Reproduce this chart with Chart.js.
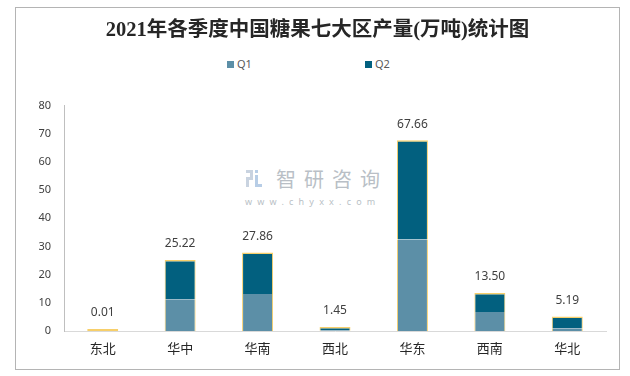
<!DOCTYPE html>
<html>
<head>
<meta charset="utf-8">
<script src="https://cdn.jsdelivr.net/npm/chart.js@4"></script>
<style>
  html, body { margin: 0; padding: 0; background: #fff; }
  #wrap { position: relative; width: 630px; height: 376px; }
  #frame { position: absolute; left: 15px; top: 7px; width: 603px; height: 361px; border: 1px solid #b4b4b4; }
  .leg { position: absolute; top: 57px; font: 11px "Noto Sans", sans-serif; color: #595959; line-height: 14px; }
  .leg i { display: inline-block; width: 7px; height: 7px; margin-right: 3px; vertical-align: 0px; }
  #wm0 { position: absolute; left: 246px; top: 170px; width: 16px; height: 17px; }
  #wm1 { position: absolute; left: 276px; top: 164px; font: 20px "Noto Sans CJK SC", sans-serif; letter-spacing: 8px; color: #b9bfc6; }
  #wm2 { position: absolute; left: 245px; top: 195px; font: 9px "Noto Sans", sans-serif; letter-spacing: 5.2px; color: #b9bfc6; }
  canvas { position: absolute; left: 0; top: 0; }
</style>
</head>
<body>
<div id="wrap">
  <div id="frame"></div>
  <svg id="wm0" viewBox="0 0 16 17">
    <rect x="0" y="0" width="7" height="3" fill="#c9d3e0"/>
    <rect x="4" y="0" width="3" height="10" fill="#c9d3e0"/>
    <rect x="0" y="7" width="7" height="3" fill="#c9d3e0"/>
    <rect x="0" y="7" width="3" height="10" fill="#c9d3e0"/>
    <rect x="9" y="0" width="3" height="3" fill="#b7cde6"/>
    <rect x="9" y="5" width="3" height="12" fill="#b7cde6"/>
    <rect x="9" y="14" width="7" height="3" fill="#b7cde6"/>
  </svg>
  <div id="wm1">智研咨询</div>
  <div id="wm2">www.chyxx.com</div>
  <div class="leg" id="leg1" style="left:227px"></div>
  <div class="leg" id="leg2" style="left:365px"></div>
  <canvas id="chart" width="630" height="376"></canvas>
</div>
<script>
// Regions and quarterly output (10k tonnes)
const regions = ['东北', '华中', '华南', '西北', '华东', '西南', '华北'];
const q1Values = [0.005, 11.24, 13.1, 0.3, 32.5, 6.7, 1.0];
const q2Values = [0.005, 13.98, 14.76, 1.15, 35.16, 6.8, 4.19];
const totalLabels = ['0.01', '25.22', '27.86', '1.45', '67.66', '13.50', '5.19'];
const yTicks = [0, 10, 20, 30, 40, 50, 60, 70, 80];

const q1Color = '#5c8fa7';
const q2Color = '#02607f';
const edgeColor = '#f7cf6a';

// Legend as plain html
document.getElementById('leg1').innerHTML = '<i style="background:' + q1Color + '"></i>Q1';
document.getElementById('leg2').innerHTML = '<i style="background:' + q2Color + '"></i>Q2';

// Draw the stack totals above each bar
const totalsPlugin = {
    id: 'totals',
    afterDatasetsDraw(chart) {
        const ctx = chart.ctx;
        const meta = chart.getDatasetMeta(1);
        ctx.save();
        ctx.font = '12px "Noto Sans", sans-serif';
        ctx.fillStyle = '#404040';
        ctx.textAlign = 'center';
        ctx.textBaseline = 'middle';
        meta.data.forEach((bar, i) => {
            ctx.fillText(totalLabels[i], bar.x, bar.y - 16);
        });
        ctx.restore();
    }
};

const ctx = document.getElementById('chart').getContext('2d');
new Chart(ctx, {
    type: 'bar',
    data: {
        labels: regions,
        datasets: [{
            label: 'Q1',
            data: q1Values,
            backgroundColor: q1Color,
            borderColor: edgeColor,
            borderWidth: { left: 1, right: 1, top: 0, bottom: 0 },
            borderSkipped: false
        }, {
            label: 'Q2',
            data: q2Values,
            backgroundColor: q2Color,
            borderColor: edgeColor,
            // very thin stacks show only the yellow edge
            borderWidth: c => ({ left: 1, right: 1, top: 1.5, bottom: c.raw < 0.1 ? 1 : 0 }),
            borderSkipped: false,
            minBarLength: 2
        }]
    },
    options: {
        responsive: false,
        animation: false,
        layout: { padding: { left: 29, right: 24, top: 0, bottom: 0 } },
        categoryPercentage: 0.8,
        barPercentage: 0.5,
        plugins: {
            legend: { display: false },
            tooltip: { enabled: false },
            title: {
                display: true,
                text: '2021年各季度中国糖果七大区产量(万吨)统计图',
                color: '#262626',
                font: { family: '"Liberation Serif", "Noto Sans CJK SC", serif', size: 20.5, weight: 'bold' },
                padding: { top: 18, bottom: 63 }
            }
        },
        scales: {
            x: {
                stacked: true,
                grid: { display: false, drawTicks: false },
                border: { color: '#d9d9d9', width: 1 },
                ticks: {
                    color: '#262626',
                    padding: 9,
                    font: { family: '"Noto Sans CJK SC", sans-serif', size: 13 }
                },
                afterFit(scale) { scale.height = 45; }
            },
            y: {
                stacked: true,
                min: 0,
                max: 80,
                grid: { display: false, drawTicks: false },
                border: { color: '#bfbfbf', width: 1 },
                afterBuildTicks(scale) { scale.ticks = yTicks.map(v => ({ value: v })); },
                ticks: {
                    color: '#404040',
                    padding: 13,
                    font: { family: '"Noto Sans", sans-serif', size: 11 }
                },
                afterFit(scale) { scale.width = 35; }
            }
        }
    },
    plugins: [totalsPlugin]
});
</script>
</body>
</html>
